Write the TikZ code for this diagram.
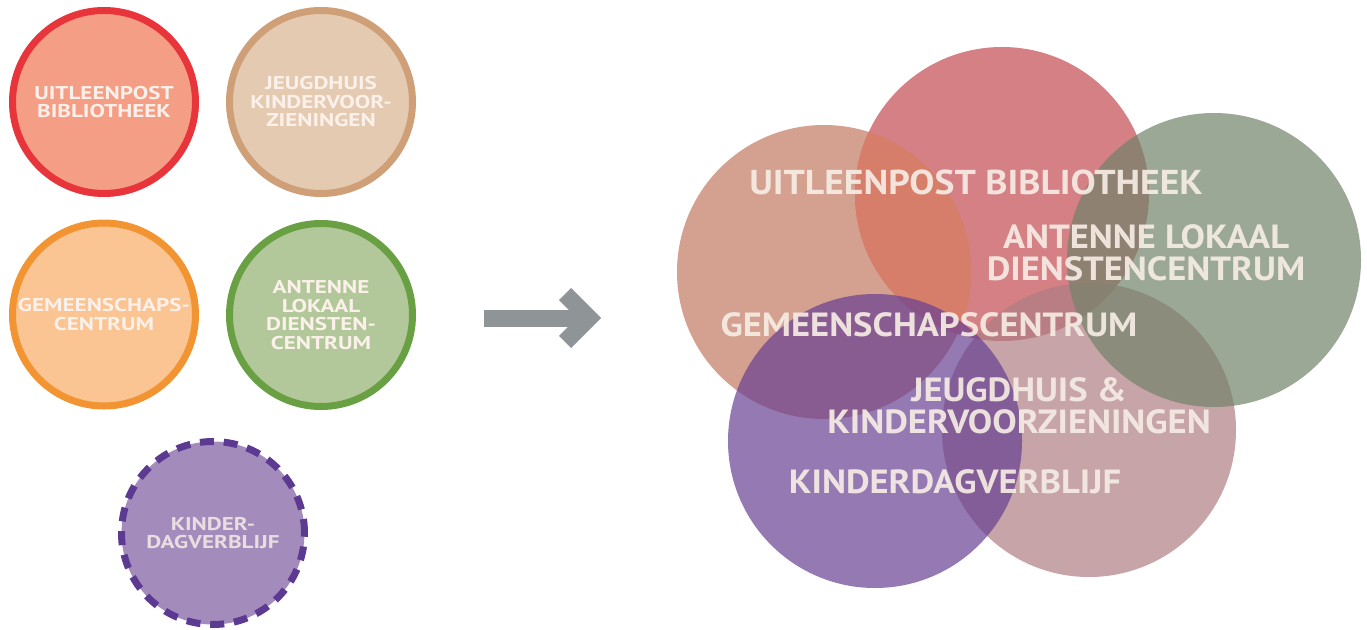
\documentclass[tikz,border=0pt]{standalone}
\usepackage{fontspec}
\setmainfont{PT Sans}
\newfontfamily\leftfont[FakeStretch=1.25]{PT Sans}
\newfontfamily\rightfont[FakeStretch=1.09]{PT Sans}
\definecolor{lredf}{HTML}{F59E86}
\definecolor{lredd}{HTML}{E8343B}
\definecolor{ltanf}{HTML}{E5CAB2}
\definecolor{ltand}{HTML}{CF9F77}
\definecolor{lorgf}{HTML}{FAC493}
\definecolor{lorgd}{HTML}{F39433}
\definecolor{lgrnf}{HTML}{B3C89A}
\definecolor{lgrnd}{HTML}{68A043}
\definecolor{lpurf}{HTML}{A38CBC}
\definecolor{lpurd}{HTML}{5D3A92}
\definecolor{rsal}{HTML}{C2775F}
\definecolor{rred}{HTML}{C24A51}
\definecolor{rgrn}{HTML}{72836A}
\definecolor{rmau}{HTML}{AE7D83}
\definecolor{rpur}{HTML}{684092}
\definecolor{rsalred}{HTML}{D67E6A}
\definecolor{txtc}{HTML}{F6ECE4}
\definecolor{ltxt}{HTML}{FBF1EA}
\definecolor{arrc}{HTML}{8F9597}
\begin{document}
\begin{tikzpicture}[x=1pt,y=-1pt,
  lcirc/.style={circle, minimum size=183pt, inner sep=0pt, line width=7pt, align=center,
     font=\leftfont\bfseries\fontsize{18.5}{18.5}\selectfont, text=ltxt},
  rcirc/.style={circle, minimum size=294pt, inner sep=0pt, fill opacity=0.7},
  rlab/.style={font=\rightfont\bfseries\fontsize{33.5}{33.5}\selectfont, text=txtc, anchor=base,
     inner sep=0pt, text opacity=0.92}]
\useasboundingbox (0,0) rectangle (1367,629);
% left circles
\node[lcirc, draw=lredd, fill=lredf] (lib) at (104,102) {UITLEENPOST\\BIBLIOTHEEK};
\node[lcirc, draw=ltand, fill=ltanf] (jeu) at (321,102) {JEUGDHUIS\\KINDERVOOR-\\ZIENINGEN};
\node[lcirc, draw=lorgd, fill=lorgf] (gem) at (104,314.5) {GEMEENSCHAPS-\\CENTRUM};
\node[lcirc, draw=lgrnd, fill=lgrnf] (ant) at (321,315) {ANTENNE\\LOKAAL\\DIENSTEN-\\CENTRUM};
\node[lcirc, draw=lpurd, fill=lpurf, dash pattern=on 14pt off 9.8pt, text=ltxt!80!lpurf] (kdv) at (213,533) {KINDER-\\DAGVERBLIJF};
% arrow
\coordinate (ae) at (589,318);
\fill[arrc] (484,309.5) rectangle (586,326.5);
\draw[arrc, line width=17pt, line join=miter] (ae) ++(-24,-24) -- (ae) -- ++(-24,24);
% right circles
\node[rcirc, fill=rred] (rlib) at (1002,194) {};
\node[rcirc, fill=rsal] (rgem) at (824,272) {};
\begin{scope}
  \clip (rgem.center) circle (147);
  \fill[rsalred] (rlib.center) circle (147);
\end{scope}
\node[rcirc, fill=rmau] (rjeu) at (1089,430) {};
\node[rcirc, fill=rgrn] (rant) at (1214,260) {};
\node[rcirc, fill=rpur] (rkdv) at (875,441) {};
% right labels
\node[rlab, font=\rightfont\bfseries\fontsize{34.5}{34.5}\selectfont] (tlib) at (976,194) {UITLEENPOST BIBLIOTHEEK};
\node[rlab] (tant1) at (1146,248) {ANTENNE LOKAAL};
\node[rlab] (tant2) at (1146,280) {DIENSTENCENTRUM};
\node[rlab] (tgem) at (929,336) {GEMEENSCHAPSCENTRUM};
\node[rlab] (tjeu1) at (1019,401) {JEUGDHUIS \&};
\node[rlab] (tjeu2) at (1019,433) {KINDERVOORZIENINGEN};
\node[rlab] (tkdv) at (955,493) {KINDERDAGVERBLIJF};
\end{tikzpicture}
\end{document}
